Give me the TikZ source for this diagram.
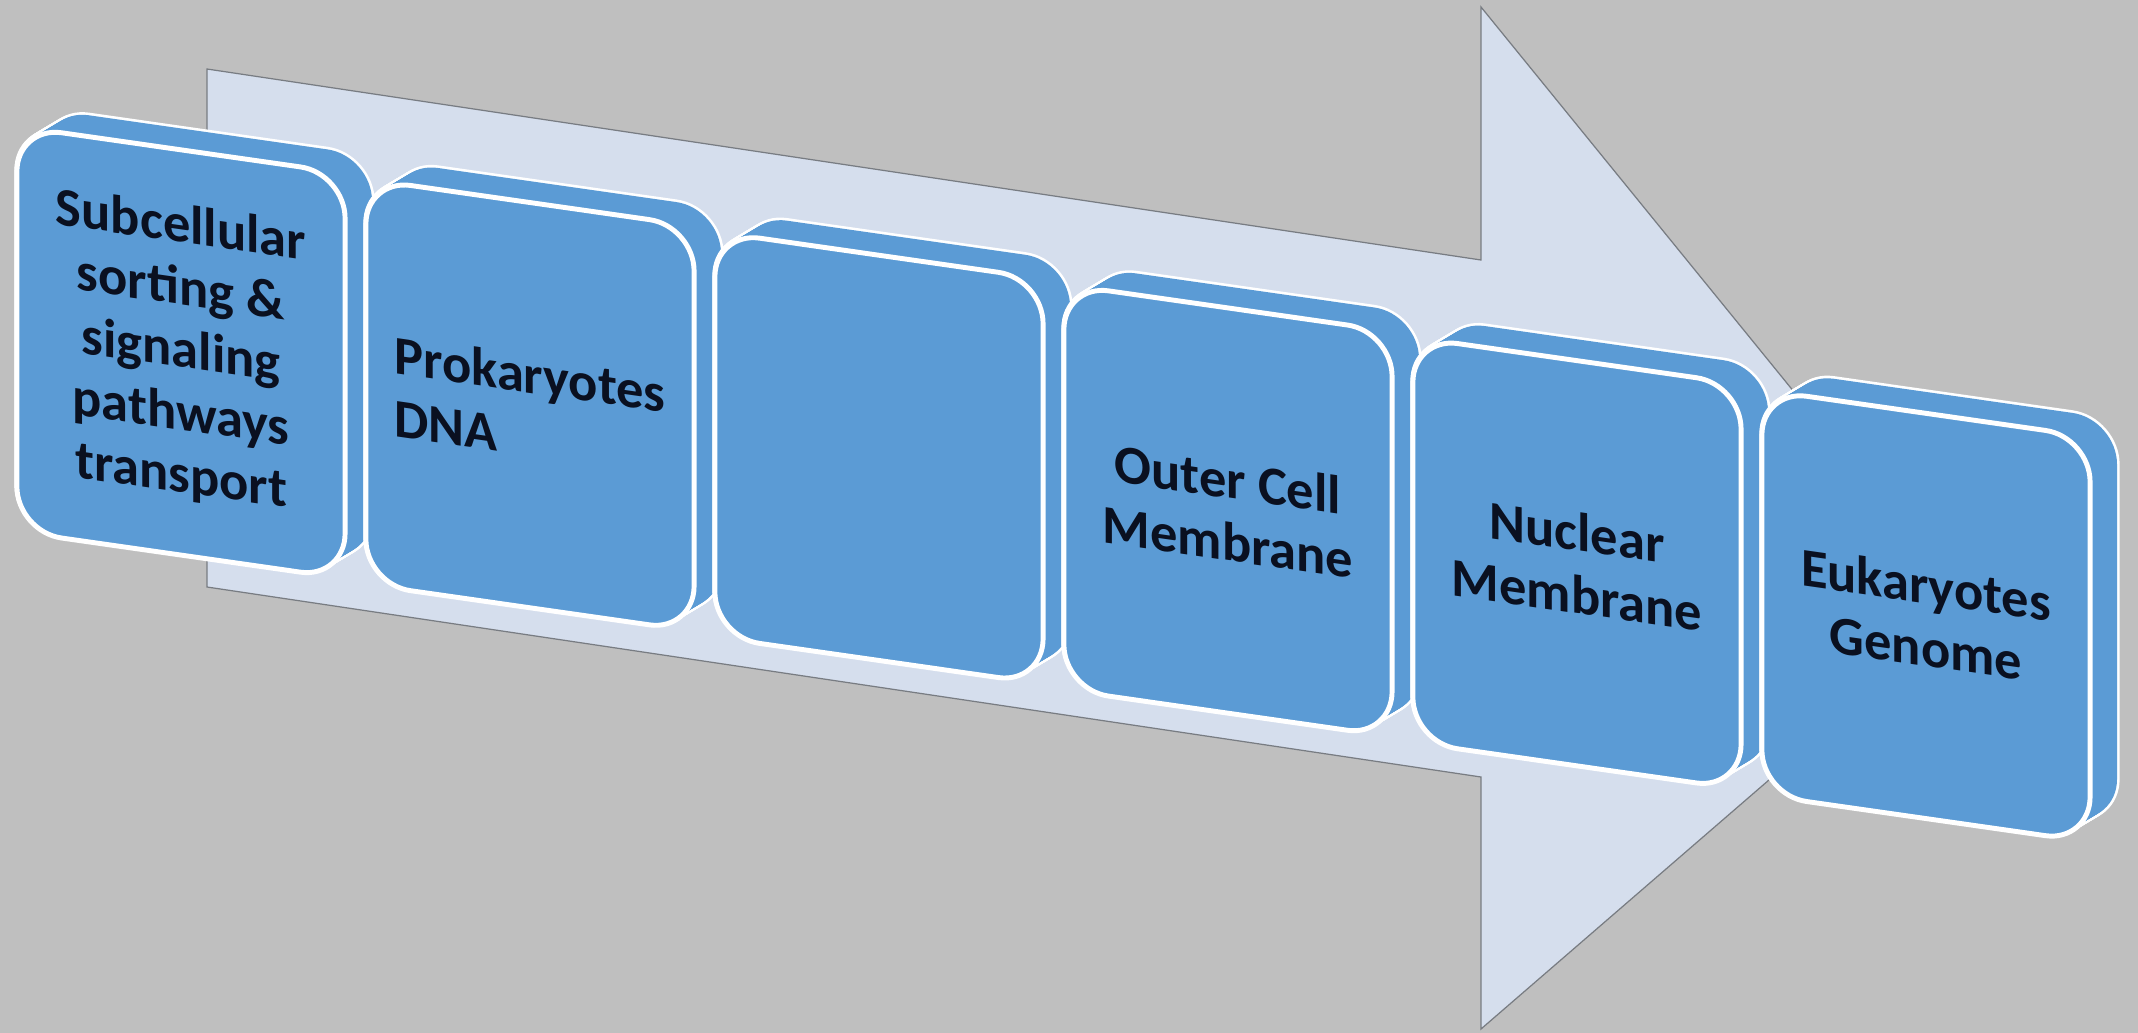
\documentclass[tikz,border=0pt]{standalone}
\usepackage{fontspec}
\setmainfont{Carlito}
\definecolor{bg}{RGB}{191,191,191}
\definecolor{arrowfill}{RGB}{213,222,237}
\definecolor{arrowline}{RGB}{120,124,130}
\definecolor{boxblue}{RGB}{91,155,213}
\definecolor{txt}{RGB}{10,16,32}
\newcommand{\drawcell}[4]{%
  \begin{scope}[shift={(17+349*#1,125+52.7*#1)}, yslant=-0.143]
    \foreach \t in {0,0.05,...,1.01}{\draw[white,line width=1.5pt,rounded corners=0.45cm] (27*\t,-20*\t) rectangle ++(328,405);}
    \foreach \t in {0,0.05,...,1.01}{\fill[boxblue,rounded corners=0.45cm] (27*\t,-20*\t) rectangle ++(328,405);}
    \node[face, align=#3] (#2) at (164,204) {#4};
  \end{scope}}
\begin{document}
\begin{tikzpicture}[x=0.01cm,y=-0.01cm,
  face/.style={draw=white, line width=1.4pt, fill=boxblue, rounded corners=0.45cm,
    minimum width=3.28cm, minimum height=4.05cm, inner sep=0pt, transform shape,
    text=txt, font=\fontsize{15.5pt}{17.8pt}\selectfont\bfseries},
  bigarrow/.style={fill=arrowfill, draw=arrowline, line width=0.35pt, line join=miter}]
\useasboundingbox (0,0) rectangle (2138,1033);
\fill[bg] (0,0) rectangle (2138,1033);
\draw[bigarrow] (207,69) coordinate (a1) -- (1481,260) coordinate (a2) -- (1481,7) coordinate (a3)
  -- (1969,607) coordinate (a4) -- (1481,1029) coordinate (a5) -- (1481,777) coordinate (a6)
  -- (207,587) coordinate (a7) -- cycle;
\drawcell{0}{box1}{center}{Subcellular\\sorting \&\\signaling\\pathways\\transport}
\drawcell{1}{box2}{left}{Prokaryotes\\DNA}
\drawcell{2}{box3}{center}{}
\drawcell{3}{box4}{center}{Outer Cell\\Membrane}
\drawcell{4}{box5}{center}{Nuclear\\Membrane}
\drawcell{5}{box6}{center}{Eukaryotes\\Genome}
\end{tikzpicture}
\end{document}
